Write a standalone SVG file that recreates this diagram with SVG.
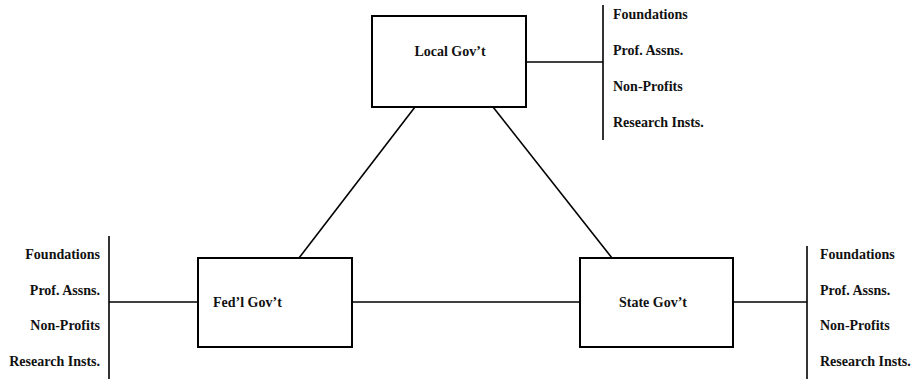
<svg xmlns="http://www.w3.org/2000/svg" width="911" height="379" viewBox="0 0 911 379">
<style>
.box{fill:#fff;stroke:#000;stroke-width:2}
.ln{stroke:#000;stroke-width:1.6;fill:none}
text{font-family:"Liberation Serif","Times New Roman",serif;font-weight:bold;font-size:14px;fill:#111}
.r{text-anchor:end}
.m{text-anchor:middle}
</style>
<rect width="911" height="379" fill="#fff"/>
<g id="connectors">
<line class="ln" x1="415" y1="107" x2="299" y2="258"/>
<line class="ln" x1="493" y1="107" x2="612" y2="258"/>
<line class="ln" x1="352" y1="302" x2="580" y2="302"/>
<line class="ln" x1="526" y1="62" x2="603" y2="62"/>
<line class="ln" x1="603" y1="5" x2="603" y2="140"/>
<line class="ln" x1="109" y1="302" x2="198" y2="302"/>
<line class="ln" x1="109" y1="236" x2="109" y2="379"/>
<line class="ln" x1="733" y1="302" x2="807" y2="302"/>
<line class="ln" x1="807" y1="246" x2="807" y2="379"/>
</g>
<g id="local">
<rect class="box" x="372" y="16" width="154" height="91"/>
<text class="m" x="450" y="56">Local Gov’t</text>
</g>
<g id="fed">
<rect class="box" x="198" y="258" width="154" height="89"/>
<text x="213" y="307">Fed’l Gov’t</text>
</g>
<g id="state">
<rect class="box" x="580" y="258" width="153" height="89"/>
<text class="m" x="653" y="307">State Gov’t</text>
</g>
<g id="local-orgs">
<text x="613" y="19">Foundations</text>
<text x="613" y="55">Prof. Assns.</text>
<text x="613" y="91">Non-Profits</text>
<text x="613" y="127">Research Insts.</text>
</g>
<g id="fed-orgs">
<text class="r" x="100" y="259">Foundations</text>
<text class="r" x="100" y="295">Prof. Assns.</text>
<text class="r" x="100" y="330">Non-Profits</text>
<text class="r" x="100" y="366">Research Insts.</text>
</g>
<g id="state-orgs">
<text x="820" y="259">Foundations</text>
<text x="820" y="295">Prof. Assns.</text>
<text x="820" y="330">Non-Profits</text>
<text x="820" y="366">Research Insts.</text>
</g>
</svg>
